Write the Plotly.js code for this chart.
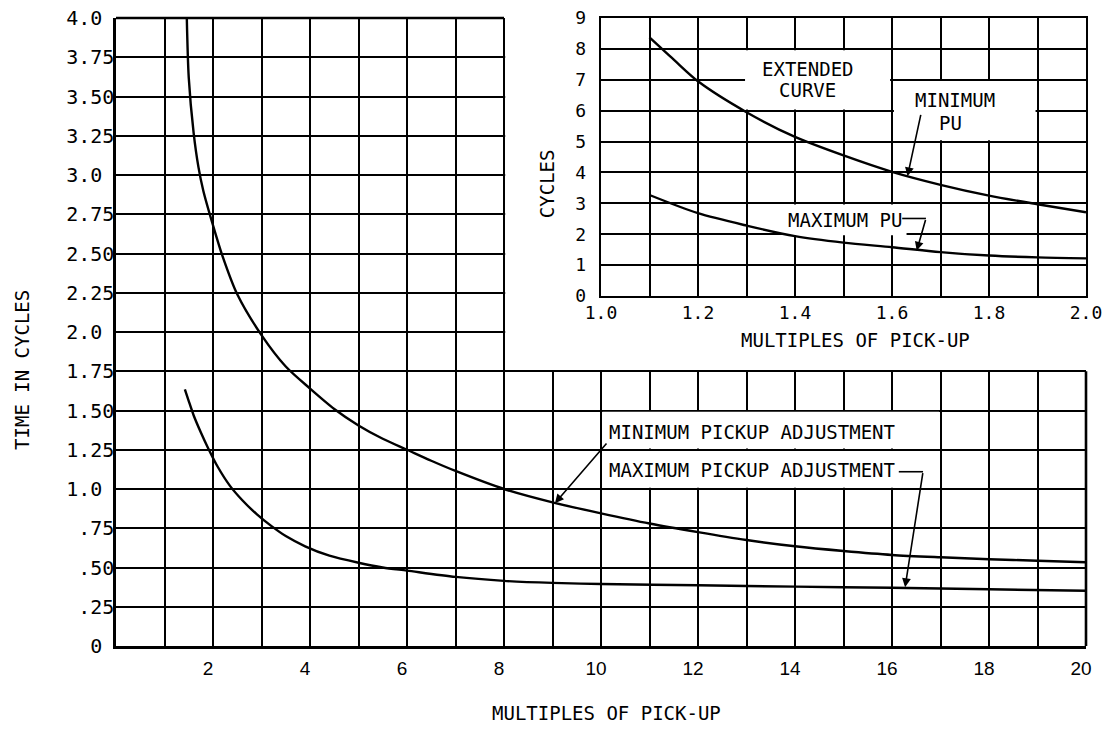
<!DOCTYPE html>
<html>
<head>
<meta charset="utf-8">
<script src="https://cdn.plot.ly/plotly-3.0.1.min.js"></script>
<style>
html,body{margin:0;padding:0;background:#fff;}
#chart{width:1107px;height:729px;}
</style>
</head>
<body>
<div id="chart"></div>
<script>
// ---------- Main chart data (multiples of pick-up vs time in cycles) ----------
const minPickupX = [1.46, 1.5, 1.6, 1.7, 1.8, 2.0, 2.2, 2.5, 3.0, 3.5, 4.0, 4.5, 5.0, 5.5, 6.0, 6.5, 7.0, 8.0, 9.0, 10.0, 11.0, 12.0, 13.0, 14.0, 15.0, 16.0, 17.0, 18.0, 19.0, 20.0];
const minPickupY = [4.0, 3.62, 3.27, 3.05, 2.9, 2.68, 2.48, 2.24, 1.98, 1.78, 1.64, 1.51, 1.405, 1.32, 1.25, 1.18, 1.115, 1.0, 0.915, 0.845, 0.78, 0.725, 0.675, 0.635, 0.605, 0.58, 0.565, 0.553, 0.543, 0.533];
const maxPickupX = [1.42, 1.5, 1.6, 1.75, 1.9, 2.1, 2.35, 2.6, 2.9, 3.2, 3.5, 3.9, 4.4, 5.0, 5.5, 6.0, 7.0, 8.0, 9.0, 10.0, 12.0, 14.0, 16.0, 18.0, 20.0];
const maxPickupY = [1.635, 1.56, 1.47, 1.36, 1.26, 1.14, 1.02, 0.93, 0.84, 0.765, 0.70, 0.635, 0.575, 0.53, 0.50, 0.48, 0.44, 0.415, 0.402, 0.395, 0.387, 0.378, 0.371, 0.361, 0.352];

// ---------- Inset data (extended curve) ----------
const insetMinX = [1.1, 1.15, 1.2, 1.3, 1.4, 1.5, 1.6, 1.7, 1.8, 1.9, 2.0];
const insetMinY = [8.37, 7.65, 6.95, 5.95, 5.15, 4.55, 4.02, 3.6, 3.25, 2.97, 2.71];
const insetMaxX = [1.1, 1.2, 1.3, 1.4, 1.5, 1.6, 1.7, 1.8, 1.9, 2.0];
const insetMaxY = [3.27, 2.68, 2.28, 1.94, 1.73, 1.58, 1.42, 1.31, 1.25, 1.22];

// ---------- Tick labels ----------
const mainXTickVals = [2, 4, 6, 8, 10, 12, 14, 16, 18, 20];
const mainXTickLabels = ['2', '4', '6', '8', '10', '12', '14', '16', '18', '20'];
const mainYTickVals = [0, 0.25, 0.5, 0.75, 1.0, 1.25, 1.5, 1.75, 2.0, 2.25, 2.5, 2.75, 3.0, 3.25, 3.5, 3.75, 4.0];
const mainYTickLabels = ['0\u00a0', '.25', '.50', '.75', '1.0\u00a0', '1.25', '1.50', '1.75', '2.0\u00a0', '2.25', '2.50', '2.75', '3.0\u00a0', '3.25', '3.50', '3.75', '4.0\u00a0'];
const insetXTickVals = [1.0, 1.2, 1.4, 1.6, 1.8, 2.0];
const insetXTickLabels = ['1.0', '1.2', '1.4', '1.6', '1.8', '2.0'];
const insetYTickVals = [0, 1, 2, 3, 4, 5, 6, 7, 8, 9];
const insetYTickLabels = ['0', '1', '2', '3', '4', '5', '6', '7', '8', '9'];

// grid every 1 on main x, every 0.1 on inset x (labels only where listed)
const mainXGrid = [];
for (let v = 0; v <= 20; v++) mainXGrid.push(v);
const mainXGridText = mainXGrid.map(v => {
  const i = mainXTickVals.indexOf(v);
  return i >= 0 ? mainXTickLabels[i] : '';
});
const insetXGrid = [];
for (let k = 10; k <= 20; k++) insetXGrid.push(k / 10);
const insetXGridText = insetXGrid.map(v => {
  const i = insetXTickVals.findIndex(t => Math.abs(t - v) < 1e-9);
  return i >= 0 ? insetXTickLabels[i] : '';
});

const MONO = '"DejaVu Sans Mono", "Liberation Mono", monospace';
const SANS = '"Liberation Sans", Arial, sans-serif';
const BLACK = '#000';

const lineStyle = {color: BLACK, width: 2.4, shape: 'spline', smoothing: 0.8};

const traces = [
  {x: minPickupX, y: minPickupY, xaxis: 'x', yaxis: 'y', mode: 'lines', line: lineStyle, name: 'Minimum pickup adjustment', hoverinfo: 'x+y'},
  {x: maxPickupX, y: maxPickupY, xaxis: 'x', yaxis: 'y', mode: 'lines', line: lineStyle, name: 'Maximum pickup adjustment', hoverinfo: 'x+y'},
  {x: insetMinX, y: insetMinY, xaxis: 'x2', yaxis: 'y2', mode: 'lines', line: lineStyle, name: 'Minimum PU', hoverinfo: 'x+y'},
  {x: insetMaxX, y: insetMaxY, xaxis: 'x2', yaxis: 'y2', mode: 'lines', line: lineStyle, name: 'Maximum PU', hoverinfo: 'x+y'}
];

const gridCommon = {showgrid: true, gridcolor: BLACK, gridwidth: 2, zeroline: false, ticks: '', fixedrange: true};

const whiteRect = (xref, yref, x0, x1, y0, y1) => ({
  type: 'rect', xref, yref, x0, x1, y0, y1, fillcolor: '#fff', line: {width: 0}, layer: 'between'
});
const blackLine = (xref, yref, x0, x1, y0, y1, w) => ({
  type: 'line', xref, yref, x0, x1, y0, y1, line: {color: BLACK, width: w || 2.4}, layer: 'above'
});

const shapes = [
  // blank upper-right region of the main grid (inset area)
  whiteRect('x', 'y', 8.025, 20, 1.758, 4),
  // label box in main chart (grid line at 1.25 stays)
  whiteRect('x', 'y', 10.03, 16.97, 1.008, 1.242),
  whiteRect('x', 'y', 10.03, 16.97, 1.258, 1.492),
  // label boxes in inset
  whiteRect('x2', 'y2', 1.297, 1.596, 6.04, 7.96),
  whiteRect('x2', 'y2', 1.604, 1.896, 5.04, 6.96),
  whiteRect('x2', 'y2', 1.375, 1.63, 1.97, 2.965),
  // main border pieces (top-left and right-bottom)
  blackLine('paper', 'paper', 0, 0.4, 1, 1, 2.6),
  blackLine('paper', 'paper', 1, 1, 0, 1.75 / 4, 2.6),
  // leader lines
  blackLine('x', 'y', 16.14, 16.64, 1.11, 1.11, 1.6),
  blackLine('x2', 'y2', 1.621, 1.670, 2.51, 2.51, 1.6)
];

const txt = (xref, yref, x, y, text, extra) => Object.assign({
  xref, yref, x, y, text, showarrow: false, xanchor: 'center', yanchor: 'middle',
  font: {family: MONO, size: 19, color: BLACK}
}, extra || {});
const arrow = (xref, yref, x, y, ax, ay) => ({
  xref, yref, axref: xref, ayref: yref, x, y, ax, ay, text: '', showarrow: true,
  arrowhead: 2, arrowsize: 1.1, arrowwidth: 1.6, arrowcolor: BLACK, standoff: 0, startstandoff: 0
});

const annotations = [
  // axis titles
  txt('paper', 'paper', -0.097, 0.4395, 'TIME IN CYCLES', {textangle: -90}),
  txt('paper', 'paper', 0.506, -0.1067, 'MULTIPLES OF PICK-UP'),
  txt('paper', 'paper', 0.4443, 0.737, 'CYCLES', {textangle: -90}),
  txt('paper', 'paper', 0.762, 0.487, 'MULTIPLES OF PICK-UP'),
  // main labels
  txt('x', 'y', 10.12, 1.36, 'MINIMUM PICKUP ADJUSTMENT', {xanchor: 'left'}),
  txt('x', 'y', 10.12, 1.12, 'MAXIMUM PICKUP ADJUSTMENT', {xanchor: 'left'}),
  arrow('x', 'y', 9.05, 0.91, 10.14, 1.30),
  arrow('x', 'y', 16.27, 0.375, 16.64, 1.11),
  // inset labels
  txt('x2', 'y2', 1.426, 7.35, 'EXTENDED'),
  txt('x2', 'y2', 1.426, 6.67, 'CURVE'),
  txt('x2', 'y2', 1.73, 6.34, 'MINIMUM'),
  txt('x2', 'y2', 1.72, 5.61, 'PU'),
  arrow('x2', 'y2', 1.632, 3.88, 1.660, 5.91),
  txt('x2', 'y2', 1.382, 2.46, 'MAXIMUM PU', {xanchor: 'left'}),
  arrow('x2', 'y2', 1.651, 1.47, 1.670, 2.51)
];

const layout = {
  width: 1107, height: 729,
  margin: {l: 116, r: 21, t: 18, b: 83, pad: 0},
  paper_bgcolor: '#fff', plot_bgcolor: '#fff',
  showlegend: false,
  xaxis: Object.assign({}, gridCommon, {
    domain: [0, 1], range: [0, 20], anchor: 'y',
    tickmode: 'array', tickvals: mainXGrid, ticktext: mainXGridText,
    showline: true, linecolor: BLACK, linewidth: 2.6,
    tickfont: {family: SANS, size: 19, color: BLACK},
    ticklabelstandoff: 4, ticklabelshift: -5
  }),
  yaxis: Object.assign({}, gridCommon, {
    domain: [0, 1], range: [0, 4], anchor: 'x',
    tickmode: 'array', tickvals: mainYTickVals, ticktext: mainYTickLabels,
    showline: true, linecolor: BLACK, linewidth: 2.6,
    tickfont: {family: MONO, size: 20, color: BLACK},
    ticklabelstandoff: -5
  }),
  xaxis2: Object.assign({}, gridCommon, {
    domain: [0.5, 1], range: [1, 2], anchor: 'y2',
    tickmode: 'array', tickvals: insetXGrid, ticktext: insetXGridText,
    showline: true, mirror: true, linecolor: BLACK, linewidth: 2.4,
    tickfont: {family: MONO, size: 18, color: BLACK},
    ticklabelstandoff: -1
  }),
  yaxis2: Object.assign({}, gridCommon, {
    domain: [0.5573, 1], range: [0, 9], anchor: 'x2',
    tickmode: 'array', tickvals: insetYTickVals, ticktext: insetYTickLabels,
    showline: true, mirror: true, linecolor: BLACK, linewidth: 2.4,
    tickfont: {family: MONO, size: 18, color: BLACK},
    ticklabelstandoff: 9
  }),
  shapes: shapes,
  annotations: annotations
};

Plotly.newPlot('chart', traces, layout, {displayModeBar: false, staticPlot: true});
</script>
</body>
</html>
